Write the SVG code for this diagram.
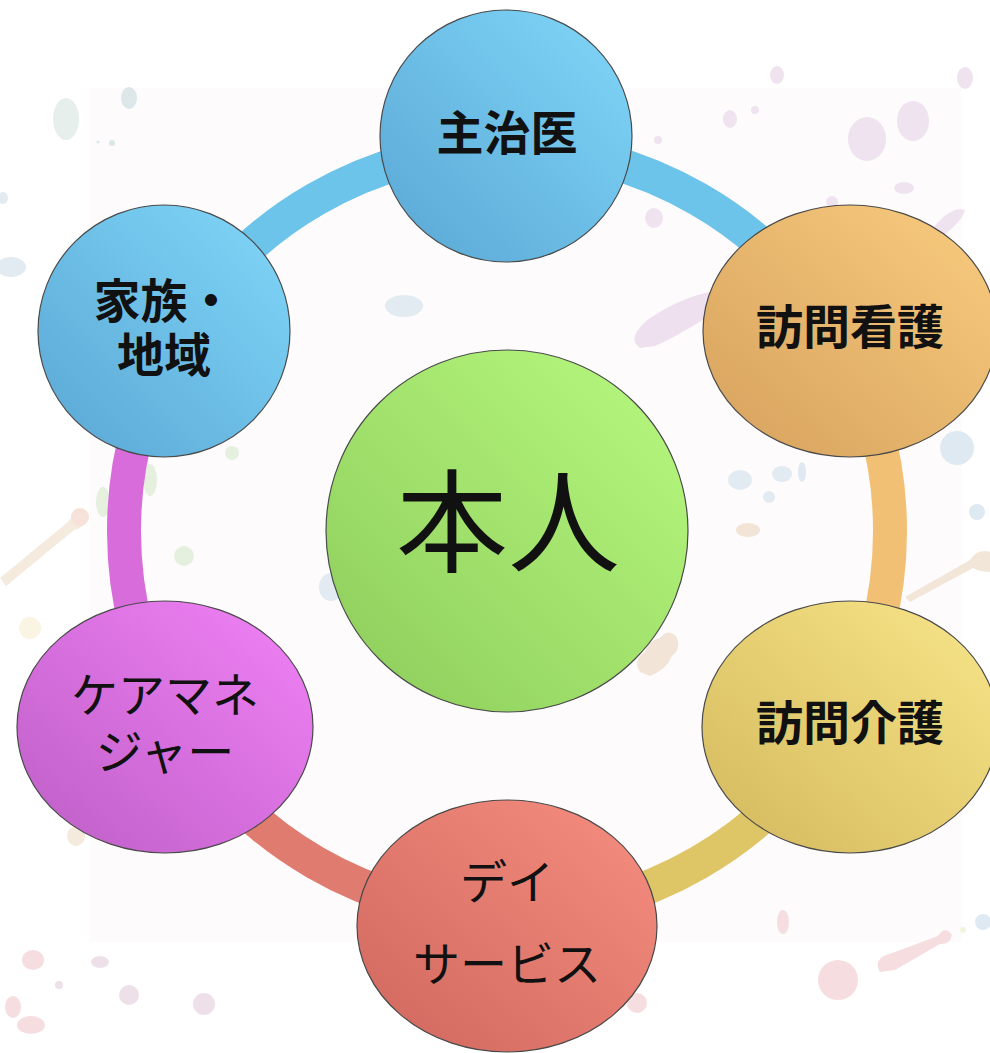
<svg xmlns="http://www.w3.org/2000/svg" width="990" height="1053" viewBox="0 0 990 1053">
  <defs>
    <linearGradient id="gBlue" x1="1" y1="0" x2="0" y2="1">
      <stop offset="0" stop-color="#80D7F9"/>
      <stop offset="1" stop-color="#5AA6D4"/>
    </linearGradient>
    <linearGradient id="gOrange" x1="1" y1="0" x2="0" y2="1">
      <stop offset="0" stop-color="#F9CC7F"/>
      <stop offset="1" stop-color="#D6A15D"/>
    </linearGradient>
    <linearGradient id="gYellow" x1="1" y1="0" x2="0" y2="1">
      <stop offset="0" stop-color="#F9E68A"/>
      <stop offset="1" stop-color="#D3B85C"/>
    </linearGradient>
    <linearGradient id="gRed" x1="1" y1="0" x2="0" y2="1">
      <stop offset="0" stop-color="#F68E80"/>
      <stop offset="1" stop-color="#D0675E"/>
    </linearGradient>
    <linearGradient id="gPink" x1="1" y1="0" x2="0" y2="1">
      <stop offset="0" stop-color="#F282F7"/>
      <stop offset="1" stop-color="#BD5EC6"/>
    </linearGradient>
    <linearGradient id="gGreen" x1="1" y1="0" x2="0" y2="1">
      <stop offset="0" stop-color="#B8FA80"/>
      <stop offset="1" stop-color="#8CCB5A"/>
    </linearGradient>
  </defs>
  <style>
    .node { stroke: #4a4a4a; stroke-width: 1.2; }
    .band { fill: none; stroke-width: 34; }
    .label { font-family: "Liberation Serif", "Noto Sans CJK JP", serif; fill: #111111; text-anchor: middle; dominant-baseline: central; }
    .k { font-size: 47px; font-weight: 700; }
    .kana { font-size: 47px; font-weight: 400; }
    .big { font-size: 112px; font-weight: 400; }
    .lav { fill: #EFE3F0; }
    .blu { fill: #E2EBF1; }
    .pnk { fill: #F6DEE0; }
    .bei { fill: #F4EADD; }
    .grn { fill: #E5F0DE; }
  </style>

  <!-- paper and paint splashes -->
  <g id="background">
    <rect x="0" y="0" width="990" height="1053" fill="#FFFFFF"/>
    <rect x="90" y="88" width="872" height="854" fill="#FDFBFC"/>
    <ellipse cx="66" cy="119" rx="13" ry="21" fill="#E7EFED"/>
    <ellipse cx="129" cy="98" rx="8" ry="11" fill="#DCE7EA"/>
    <circle cx="112" cy="143" r="3" fill="#DCE7EA"/>
    <circle cx="98" cy="142" r="1.5" fill="#DCE7EA"/>
    <ellipse cx="11" cy="267" rx="15" ry="10" class="blu"/>
    <ellipse cx="3" cy="198" rx="5" ry="6" class="blu"/>
    <ellipse cx="404" cy="306" rx="19" ry="11" class="blu"/>
    <circle cx="232" cy="453" r="7" class="grn"/>
    <ellipse cx="150" cy="480" rx="7" ry="16" class="grn"/>
    <ellipse cx="103" cy="502" rx="7" ry="15" class="grn"/>
    <circle cx="184" cy="556" r="10" class="grn"/>
    <path d="M0,578 L68,522 Q80,506 88,518 Q84,528 74,530 L6,586 Z" class="bei"/>
    <circle cx="80" cy="517" r="9" fill="#F6E2D8"/>
    <circle cx="30" cy="628" r="11" fill="#FAF4E3"/>
    <ellipse cx="76" cy="836" rx="9" ry="10" class="bei"/>
    <ellipse cx="331" cy="587" rx="12" ry="14" class="blu"/>
    <ellipse cx="777" cy="75" rx="7" ry="9" class="lav"/>
    <ellipse cx="730" cy="119" rx="7" ry="9" class="lav"/>
    <circle cx="755" cy="110" r="4" class="lav"/>
    <ellipse cx="867" cy="139" rx="19" ry="22" class="lav"/>
    <ellipse cx="913" cy="121" rx="16" ry="20" class="lav"/>
    <ellipse cx="965" cy="78" rx="8" ry="11" class="lav"/>
    <ellipse cx="904" cy="188" rx="10" ry="6" class="lav"/>
    <ellipse cx="654" cy="218" rx="9" ry="10" class="lav"/>
    <circle cx="658" cy="140" r="4" class="lav"/>
    <circle cx="832" cy="202" r="6" class="lav"/>
    <path d="M930,232 Q950,205 965,210 Q962,222 940,238 Z" class="lav"/>
    <path d="M640,348 Q625,338 650,318 Q690,292 725,290 Q735,300 715,312 Q680,335 655,346 Z" fill="#EEE0EE"/>
    <ellipse cx="957" cy="448" rx="17" ry="17" fill="#DEE9F2"/>
    <circle cx="977" cy="512" r="8" fill="#DEE9F2"/>
    <ellipse cx="802" cy="472" rx="4" ry="10" fill="#DEE9F2"/>
    <ellipse cx="740" cy="480" rx="12" ry="10" class="blu"/>
    <ellipse cx="782" cy="474" rx="10" ry="8" class="blu"/>
    <circle cx="769" cy="497" r="6" class="blu"/>
    <path d="M905,597 L970,560 Q978,548 990,552 L990,572 Q980,572 973,568 L910,602 Z" fill="#F2E6D9"/>
    <path d="M640,672 Q632,660 645,652 Q648,640 660,638 Q668,628 676,636 Q682,648 672,656 Q666,670 650,676 Z" fill="#F2E5D7"/>
    <ellipse cx="748" cy="530" rx="12" ry="7" fill="#F2E5D7"/>
    <ellipse cx="33" cy="960" rx="11" ry="10" class="pnk"/>
    <ellipse cx="100" cy="962" rx="9" ry="6" fill="#EEE0E8"/>
    <circle cx="59" cy="985" r="4" fill="#EEE0E8"/>
    <circle cx="129" cy="995" r="10" fill="#EEE0E8"/>
    <circle cx="204" cy="1004" r="11" fill="#EEE0E8"/>
    <ellipse cx="13" cy="1007" rx="8" ry="11" class="pnk"/>
    <ellipse cx="31" cy="1025" rx="14" ry="9" class="pnk"/>
    <ellipse cx="783" cy="922" rx="6" ry="12" class="pnk"/>
    <circle cx="838" cy="980" r="20" class="pnk"/>
    <path d="M880,972 Q872,958 892,953 L938,936 Q945,925 952,935 Q950,945 940,944 L895,970 Z" class="pnk"/>
    <circle cx="983" cy="922" r="8" fill="#DEE9F2"/>
    <circle cx="963" cy="930" r="3" fill="#F1F4DE"/>
    <circle cx="637" cy="1003" r="10" class="pnk"/>
  </g>

  <!-- ring segments, each tinted like the node it leaves -->
  <g id="connectors">
    <path class="band" stroke="#6DC4EA" d="M507,148 A383,383 0 0 1 838.7,339.5"/>
    <path class="band" stroke="#F2C074" d="M838.7,339.5 A383,383 0 0 1 838.7,722.5"/>
    <path class="band" stroke="#DEC566" d="M838.7,722.5 A383,383 0 0 1 507,914"/>
    <path class="band" stroke="#E07B6F" d="M507,914 A383,383 0 0 1 175.3,722.5"/>
    <path class="band" stroke="#D86CDB" d="M175.3,722.5 A383,383 0 0 1 175.3,339.5"/>
    <path class="band" stroke="#6DC4EA" d="M175.3,339.5 A383,383 0 0 1 507,148"/>
  </g>

  <g id="node-shujii">
    <circle class="node" cx="506" cy="136" r="126" fill="url(#gBlue)"/>
    <text class="label k" x="507" y="134">主治医</text>
  </g>

  <g id="node-houmon-kango">
    <ellipse class="node" cx="850" cy="331" rx="147" ry="126" fill="url(#gOrange)"/>
    <text class="label k" x="850" y="328">訪問看護</text>
  </g>

  <g id="node-houmon-kaigo">
    <ellipse class="node" cx="850" cy="727" rx="148" ry="126" fill="url(#gYellow)"/>
    <text class="label k" x="850" y="724">訪問介護</text>
  </g>

  <g id="node-day-service">
    <ellipse class="node" cx="507" cy="926" rx="150" ry="126" fill="url(#gRed)"/>
    <text class="label kana" x="507" y="883">デイ</text>
    <text class="label kana" x="507" y="965">サービス</text>
  </g>

  <g id="node-care-manager">
    <ellipse class="node" cx="165" cy="727" rx="148" ry="126" fill="url(#gPink)"/>
    <text class="label kana" x="165" y="696">ケアマネ</text>
    <text class="label kana" x="165" y="753">ジャー</text>
  </g>

  <g id="node-kazoku">
    <circle class="node" cx="164" cy="331" r="126" fill="url(#gBlue)"/>
    <text class="label k" x="164" y="302">家族・</text>
    <text class="label k" x="164" y="356">地域</text>
  </g>

  <g id="node-honnin">
    <circle class="node" cx="507" cy="531" r="181" fill="url(#gGreen)"/>
    <text class="label big" x="508" y="526">本人</text>
  </g>
</svg>
